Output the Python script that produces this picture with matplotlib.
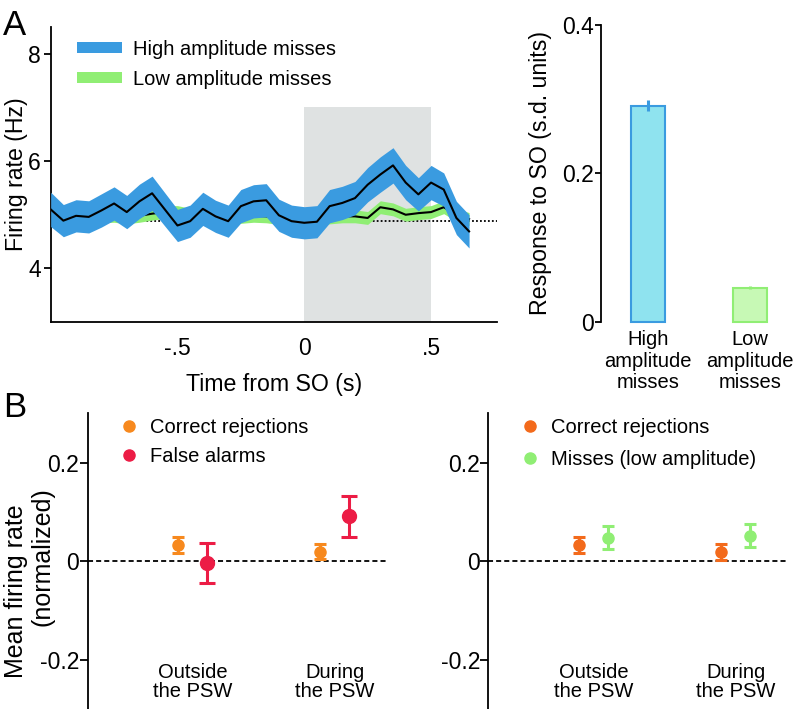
#!/usr/bin/env python3
"""Firing-rate response to slow oscillations: PSTH, bar summary and PSW comparisons."""

import matplotlib

matplotlib.use("Agg")
import matplotlib.pyplot as plt  # noqa: E402
import numpy as np  # noqa: E402
from matplotlib.lines import Line2D  # noqa: E402

plt.rcParams["font.family"] = ["Liberation Sans", "DejaVu Sans"]

# panel A, left: firing rate around SO onset (Hz)
TIME = np.round(np.arange(-1.0, 0.651, 0.05), 2)
HIGH_MEAN = [5.10, 4.89, 4.98, 4.96, 5.08, 5.21, 5.05, 5.25, 5.40, 5.10,
             4.80, 4.88, 5.11, 4.97, 4.88, 5.16, 5.25, 5.27, 4.99, 4.88,
             4.85, 4.87, 5.16, 5.22, 5.31, 5.56, 5.75, 5.92, 5.60, 5.38,
             5.60, 5.47, 4.94, 4.69]
HIGH_SEM = [0.32, 0.30, 0.30, 0.30, 0.31, 0.31, 0.31, 0.32, 0.32, 0.31,
            0.30, 0.30, 0.31, 0.30, 0.30, 0.31, 0.31, 0.31, 0.30, 0.30,
            0.30, 0.30, 0.31, 0.31, 0.31, 0.32, 0.33, 0.33, 0.32, 0.31,
            0.32, 0.31, 0.31, 0.31]
LOW_MEAN = [4.95, 4.92, 4.95, 4.93, 4.97, 4.98, 4.95, 4.98, 5.02, 5.05,
            5.05, 5.00, 4.97, 4.95, 4.93, 4.96, 4.98, 4.97, 4.94, 4.92,
            4.92, 4.93, 4.95, 4.97, 4.97, 4.94, 5.14, 5.10, 5.00, 5.03,
            5.05, 5.14, 5.00, 4.92]
LOW_SEM = [0.12] * len(LOW_MEAN)
BASELINE = 4.89
SO_WINDOW = (0.0, 0.5)

# panel A, right: response to SO (s.d. units)
BAR_LABELS = ["High\namplitude\nmisses", "Low\namplitude\nmisses"]
BAR_VALUES = [0.291, 0.046]
BAR_ERRORS = [0.0075, 0.002]

# panel B: mean normalized firing rate
PERIODS = ["Outside\nthe PSW", "During\nthe PSW"]
CR_LEFT = [0.033, 0.019]
CR_LEFT_ERR = [0.017, 0.015]
FALSE_ALARMS = [-0.004, 0.091]
FALSE_ALARMS_ERR = [0.041, 0.041]
CR_RIGHT = [0.033, 0.019]
CR_RIGHT_ERR = [0.017, 0.016]
MISSES_LOW = [0.048, 0.052]
MISSES_LOW_ERR = [0.024, 0.023]

BLUE = "#3a9be0"
GREEN = "#90ee74"
GREY = "#dfe2e2"
ORANGE = "#f7891e"
ORANGE_DARK = "#f36a1b"
RED = "#ec1c45"
BAR_FILLS = ["#8fe3ef", "#c7f9b5"]
BAR_EDGES = [BLUE, GREEN]

TICK_SIZE = 16.5
LABEL_SIZE = 16.7
TEXT_SIZE = 14.5
SPINE_W = 1.3


def _style(ax, bottom=True):
    for side in ("top", "right"):
        ax.spines[side].set_visible(False)
    ax.spines["bottom"].set_visible(bottom)
    for side in ("left", "bottom"):
        ax.spines[side].set_linewidth(SPINE_W)
    ax.tick_params(labelsize=TICK_SIZE, width=SPINE_W, direction="out")


def panel_psth(ax):
    ax.fill_between(SO_WINDOW, 3, 7, color=GREY, lw=0, zorder=0)
    ax.plot([-1.0, 0.76], [BASELINE, BASELINE], color="black", lw=1.3,
            ls=(0, (1, 1.2)), zorder=1)
    low = np.array(LOW_MEAN)
    low_sem = np.array(LOW_SEM)
    high = np.array(HIGH_MEAN)
    high_sem = np.array(HIGH_SEM)
    green = ax.fill_between(TIME, low - low_sem, low + low_sem, color=GREEN,
                            lw=0, zorder=2)
    ax.plot(TIME, low, color="black", lw=1.5, zorder=3)
    blue = ax.fill_between(TIME, high - high_sem, high + high_sem, color=BLUE,
                           lw=0, zorder=4)
    ax.plot(TIME, high, color="black", lw=1.5, zorder=5)

    ax.set_xlim(-1.0, 0.76)
    ax.set_ylim(3, 8.5)
    ax.set_xticks([-0.5, 0, 0.5])
    ax.set_xticklabels(["-.5", "0", ".5"])
    ax.set_yticks([4, 6, 8])
    _style(ax)
    ax.tick_params(axis="x", length=0, pad=11)
    ax.tick_params(axis="y", length=5, pad=2)
    ax.set_xlabel("Time from SO (s)", fontsize=LABEL_SIZE, labelpad=9)
    ax.set_ylabel("Firing rate (Hz)", fontsize=LABEL_SIZE)
    ax.yaxis.set_label_coords(-0.051, 0.5)
    ax.legend([blue, green], ["High amplitude misses", "Low amplitude misses"],
              loc="upper left", bbox_to_anchor=(0.059, 0.956), frameon=False,
              fontsize=TEXT_SIZE, handlelength=2.25, handleheight=0.45,
              handletextpad=0.55, labelspacing=0.55, borderpad=0,
              borderaxespad=0)


def panel_bars(ax):
    xs = np.arange(len(BAR_VALUES))
    ax.bar(xs, BAR_VALUES, width=0.333, color=BAR_FILLS, edgecolor=BAR_EDGES,
           linewidth=1.5, clip_on=False, zorder=2)
    for x, value, err, edge in zip(xs, BAR_VALUES, BAR_ERRORS, BAR_EDGES):
        ax.errorbar(x, value, yerr=err, fmt="none", ecolor=edge, elinewidth=2.2,
                    capsize=0, zorder=3)
    ax.set_xlim(-0.461, 1.392)
    ax.set_ylim(0, 0.4)
    ax.set_yticks([0, 0.2, 0.4])
    ax.set_yticklabels(["0", "0.2", "0.4"])
    ax.set_xticks(xs)
    ax.set_xticklabels(BAR_LABELS, linespacing=1.17)
    _style(ax, bottom=False)
    ax.tick_params(axis="x", length=0, pad=6, labelsize=TEXT_SIZE)
    ax.tick_params(axis="y", length=4.3, pad=1)
    ax.set_ylabel("Response to SO (s.d. units)", fontsize=LABEL_SIZE)
    ax.yaxis.set_label_coords(-0.259, 0.5)


def panel_psw(ax, first, first_err, second, second_err, colors, labels, sizes,
              spacing):
    xs = np.arange(1, len(PERIODS) + 1)
    for offset, vals, errs, color, size in (
        (-0.1, first, first_err, colors[0], sizes[0]),
        (0.1, second, second_err, colors[1], sizes[1]),
    ):
        ax.errorbar(xs + offset, vals, yerr=errs, fmt="o", color=color,
                    markersize=size, elinewidth=2.2, capsize=size * 0.55,
                    capthick=2.2, zorder=3)
    ax.axhline(0, color="black", lw=1.3, ls=(0, (2.8, 1.7)), zorder=1)
    for x, label in zip(xs, PERIODS):
        ax.text(x, -0.206, label, ha="center", va="top", fontsize=TEXT_SIZE,
                linespacing=1.0)
    ax.set_xlim(0.26, 2.37)
    ax.set_ylim(-0.3, 0.3)
    ax.set_xticks([])
    ax.set_yticks([-0.2, 0, 0.2])
    ax.set_yticklabels(["-0.2", "0", "0.2"])
    _style(ax, bottom=False)
    ax.tick_params(axis="y", length=5.5, pad=0.5)
    handles = [Line2D([], [], marker="o", ls="none", color=c, markersize=8)
               for c in colors]
    ax.legend(handles, labels, loc="upper left", bbox_to_anchor=(0.105, 0.985),
              frameon=False, fontsize=TEXT_SIZE, handlelength=1.0,
              handletextpad=0.55, labelspacing=spacing, borderpad=0,
              borderaxespad=0)


def main():
    fig = plt.figure(figsize=(7.93, 7.09), dpi=100)
    ax_psth = fig.add_axes([0.0639, 0.5458, 0.5628, 0.4161])
    ax_bars = fig.add_axes([0.7579, 0.5463, 0.2383, 0.4184])
    ax_fa = fig.add_axes([0.1106, 0.0, 0.3774, 0.417])
    ax_miss = fig.add_axes([0.6158, 0.0, 0.378, 0.417])

    panel_psth(ax_psth)
    panel_bars(ax_bars)
    panel_psw(ax_fa, CR_LEFT, CR_LEFT_ERR, FALSE_ALARMS, FALSE_ALARMS_ERR,
              (ORANGE, RED), ("Correct rejections", "False alarms"), (8, 10),
              0.5)
    panel_psw(ax_miss, CR_RIGHT, CR_RIGHT_ERR, MISSES_LOW, MISSES_LOW_ERR,
              (ORANGE_DARK, GREEN), ("Correct rejections", "Misses (low amplitude)"),
              (8, 8), 0.65)

    fig.text(0.0202, 0.1664, "Mean firing rate", rotation=90, ha="center",
             va="center", fontsize=18)
    fig.text(0.0542, 0.2144, "(normalized)", rotation=90, ha="center",
             va="center", fontsize=18)

    fig.text(0.004, 0.988, "A", fontsize=25, va="top", ha="left")
    fig.text(0.004, 0.448, "B", fontsize=25, va="top", ha="left")

    fig.savefig("out.png", dpi=100)
    plt.close(fig)


if __name__ == "__main__":
    main()
